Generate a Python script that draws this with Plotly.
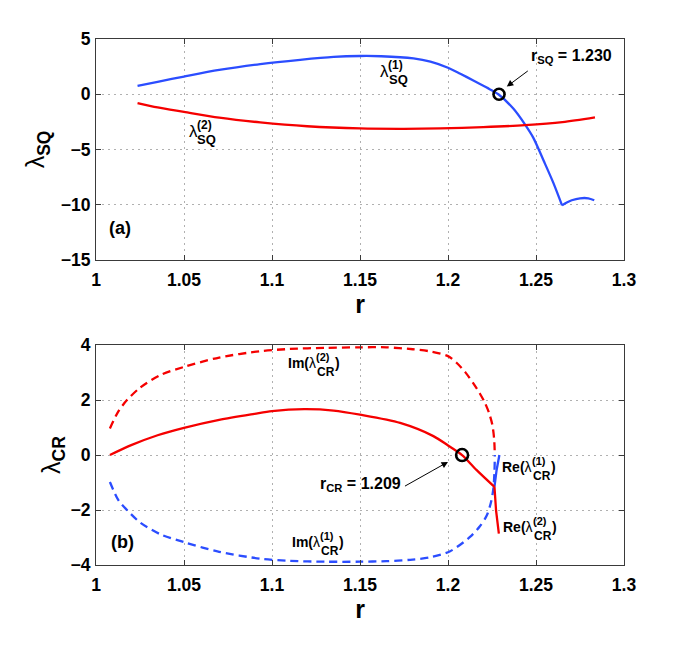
"""
Two stacked panels: lambda_SQ and lambda_CR versus r, MATLAB-like look.
"""

import plotly.graph_objects as go

# ---- panel (a): lambda_SQ ----
r_sq1 = [1.0236, 1.035, 1.05, 1.07, 1.0933, 1.116, 1.135, 1.15, 1.162, 1.1804,
         1.19, 1.2, 1.207, 1.2144, 1.222, 1.2286, 1.2371, 1.2438, 1.2485,
         1.2543, 1.2598, 1.2648, 1.2675, 1.2703, 1.275, 1.2797, 1.2831]
lam_sq1 = [0.75, 1.12, 1.6, 2.2, 2.73, 3.12, 3.38, 3.46, 3.44, 3.24,
           2.95, 2.4, 1.85, 1.25, 0.6, 0.0, -1.3, -2.75, -3.95,
           -6.0, -8.0, -10.06, -9.8, -9.6, -9.42, -9.42, -9.6]
SQ1_CUSP = 21  # index of the sharp minimum

r_sq2 = [1.0236, 1.035, 1.05, 1.07, 1.0933, 1.12, 1.15, 1.175, 1.1955, 1.22,
         1.2438, 1.265, 1.2835]
lam_sq2 = [-0.8, -1.2, -1.6, -2.12, -2.55, -2.9, -3.1, -3.13, -3.1, -2.98,
           -2.8, -2.52, -2.09]

r_sq_crit = 1.229

# ---- panel (b): lambda_CR ----
r_im2 = [1.0079, 1.0128, 1.0176, 1.025, 1.0365, 1.0501, 1.07, 1.0933, 1.11,
         1.13, 1.15, 1.165, 1.18, 1.19, 1.2, 1.205, 1.21, 1.2145, 1.218,
         1.221, 1.2235, 1.2252, 1.2262, 1.2266]
im_cr2 = [0.97, 1.6, 2.0, 2.45, 2.91, 3.21, 3.55, 3.78, 3.86,
          3.9, 3.92, 3.92, 3.85, 3.77, 3.6, 3.35, 3.0, 2.6, 2.25,
          1.9, 1.5, 1.1, 0.6, 0.0]

r_im1 = [1.0079, 1.0128, 1.0176, 1.025, 1.0365, 1.0501, 1.07, 1.0933, 1.11,
         1.13, 1.15, 1.165, 1.1785, 1.19, 1.2012, 1.2125, 1.218, 1.222,
         1.2245, 1.2258, 1.2264, 1.2266]
im_cr1 = [-0.98, -1.65, -2.0, -2.45, -2.88, -3.17, -3.52, -3.77, -3.85,
          -3.88, -3.88, -3.86, -3.81, -3.72, -3.5, -2.98, -2.6, -2.2,
          -1.7, -1.2, -0.6, 0.0]

r_re1 = [1.2264, 1.2276, 1.2292]
re_cr1 = [-1.16, -0.55, 0.0]

r_re2 = [1.0079, 1.02, 1.035, 1.05, 1.07, 1.09, 1.1, 1.1183, 1.135, 1.15,
         1.1728, 1.1917, 1.2, 1.208, 1.2163, 1.2264, 1.2273, 1.2289]
re_cr2 = [0.0, 0.36, 0.72, 0.99, 1.28, 1.5, 1.6, 1.67, 1.62, 1.47,
          1.17, 0.69, 0.35, 0.0, -0.55, -1.16, -2.01, -2.86]
RE2_KINK = 15  # where the complex pair splits

r_cr_crit = 1.208

# ---- ticks ----
x_ticks = [1, 1.05, 1.1, 1.15, 1.2, 1.25, 1.3]
x_tick_text = ["1", "1.05", "1.1", "1.15", "1.2", "1.25", "1.3"]
y_ticks_sq = [-15, -10, -5, 0, 5]
y_ticks_cr = [-4, -2, 0, 2, 4]

BLUE = "#2b4dff"
RED = "#f50000"
FONT = "Liberation Sans"
LW = 2.3

fig = go.Figure()


def curve(x, y, color, ax, dash=None, smooth=True):
    fig.add_trace(go.Scatter(
        x=x, y=y, mode="lines", xaxis="x" + ax, yaxis="y" + ax,
        line=dict(color=color, width=LW, dash=dash,
                  shape="spline" if smooth else "linear", smoothing=0.8),
    ))


# panel (a)
curve(r_sq1[:SQ1_CUSP + 1], lam_sq1[:SQ1_CUSP + 1], BLUE, "")
curve(r_sq1[SQ1_CUSP:], lam_sq1[SQ1_CUSP:], BLUE, "")
curve(r_sq2, lam_sq2, RED, "")
fig.add_trace(go.Scatter(x=[r_sq_crit], y=[0], mode="markers",
                         marker=dict(symbol="circle-open", size=11, color="black",
                                     line=dict(width=2.6)),
                         xaxis="x", yaxis="y"))

# panel (b)
curve(r_im2, im_cr2, RED, "2", dash="8px,5px")
curve(r_im1, im_cr1, BLUE, "2", dash="8px,5px")
curve(r_re1, re_cr1, BLUE, "2", smooth=False)
curve(r_re2[:RE2_KINK + 1], re_cr2[:RE2_KINK + 1], RED, "2")
curve(r_re2[RE2_KINK:], re_cr2[RE2_KINK:], RED, "2", smooth=False)
fig.add_trace(go.Scatter(x=[r_cr_crit], y=[0], mode="markers",
                         marker=dict(symbol="circle-open", size=12, color="black",
                                     line=dict(width=2.6)),
                         xaxis="x2", yaxis="y2"))

axis_common = dict(
    showline=True, linecolor="#3a3a3a", linewidth=1.2, mirror="ticks",
    ticks="inside", ticklen=5, tickcolor="#3a3a3a", tickwidth=1,
    showgrid=True, gridcolor="#b0b0b0", gridwidth=1, griddash="2px,4px",
    zeroline=False,
    tickfont=dict(family=FONT, size=17.5, color="black", weight="bold"),
)

x_common = dict(axis_common, range=[1, 1.3], tickvals=x_ticks,
                ticktext=x_tick_text, ticklabelstandoff=4,
                title=dict(text="r", standoff=0,
                           font=dict(family=FONT, size=25, weight="bold")))

# page body has an 8px margin, so the figure is 8px smaller and margins shifted
fig.update_layout(
    xaxis=dict(x_common, anchor="y", domain=[0, 1]),
    yaxis=dict(axis_common, anchor="x", domain=[0.58, 1], range=[-15, 5],
               tickvals=y_ticks_sq, ticklabelstandoff=1,
               title=dict(text="λ<sub><b>SQ</b></sub>", standoff=8,
                          font=dict(family=FONT, size=25))),
    xaxis2=dict(x_common, anchor="y2", domain=[0, 1]),
    yaxis2=dict(axis_common, anchor="x2", domain=[0, 0.418], range=[-4, 4],
                tickvals=y_ticks_cr, ticklabelstandoff=1,
                title=dict(text="λ<sub><b>CR</b></sub>", standoff=2,
                           font=dict(family=FONT, size=25))),
    width=673, height=637,
    margin=dict(l=88, r=57, t=31, b=80),
    paper_bgcolor="white", plot_bgcolor="white",
    showlegend=False,
    font=dict(family=FONT, color="black"),
)


def note(text, x, y, xref, yref, size=16, xshift=0, yshift=0, bold=True):
    fig.add_annotation(text=text, x=x, y=y, xref=xref, yref=yref,
                       xanchor="left", yanchor="middle", showarrow=False,
                       xshift=xshift, yshift=yshift,
                       font=dict(family=FONT, size=size, color="black",
                                 weight="bold" if bold else "normal"))


def lam_label(pre, sup, sub, post, x, y, xref, yref, dsup, dsub, dpost,
              size=14, ssize=11, bsize=12):
    note(pre, x, y, xref, yref, size=size, bold=False)
    note(sup, x, y, xref, yref, size=ssize, xshift=dsup, yshift=6)
    note(sub, x, y, xref, yref, size=bsize, xshift=dsub, yshift=-8.5)
    if post:
        note(post, x, y, xref, yref, size=size, xshift=dpost)


# curve labels, panel (a)
lam_label("λ", "(1)", "SQ", "", 1.1605, 2.1, "x", "y", 8, 8.5, 0,
          size=17, ssize=12, bsize=13)
lam_label("λ", "(2)", "SQ", "", 1.0515, -3.34, "x", "y", 8, 8.5, 0,
          size=17, ssize=12, bsize=13)
note("r<sub>SQ</sub> = 1.230", 1.2462, 3.45, "x", "y", size=16)
note("(a)", 1.0065, -12.1, "x", "y", size=18)

# curve labels, panel (b)
lam_label("<b>Im(</b>λ", "(2)", "CR", ")", 1.108, 3.34, "x2", "y2", 28, 28.5, 47)
lam_label("<b>Im(</b>λ", "(1)", "CR", ")", 1.1105, -3.18, "x2", "y2", 28, 28.5, 47)
lam_label("<b>Re(</b>λ", "(1)", "CR", ")", 1.2298, -0.44, "x2", "y2", 30, 30.5, 49)
lam_label("<b>Re(</b>λ", "(2)", "CR", ")", 1.2303, -2.62, "x2", "y2", 30, 30.5, 49)
note("r<sub>CR</sub> = 1.209", 1.1262, -1.06, "x2", "y2", size=16)
note("(b)", 1.0073, -3.16, "x2", "y2", size=18)

# arrows
fig.add_annotation(x=1.2334, y=0.69, ax=1.2462, ay=2.21, xref="x", yref="y",
                   axref="x", ayref="y", text="", showarrow=True,
                   arrowhead=2, arrowsize=1.3, arrowwidth=1, arrowcolor="black")
fig.add_annotation(x=1.2, y=-0.25, ax=1.1747, ay=-1.16, xref="x2", yref="y2",
                   axref="x2", ayref="y2", text="", showarrow=True,
                   arrowhead=2, arrowsize=1.3, arrowwidth=1, arrowcolor="black")

fig.write_html("out.html")
